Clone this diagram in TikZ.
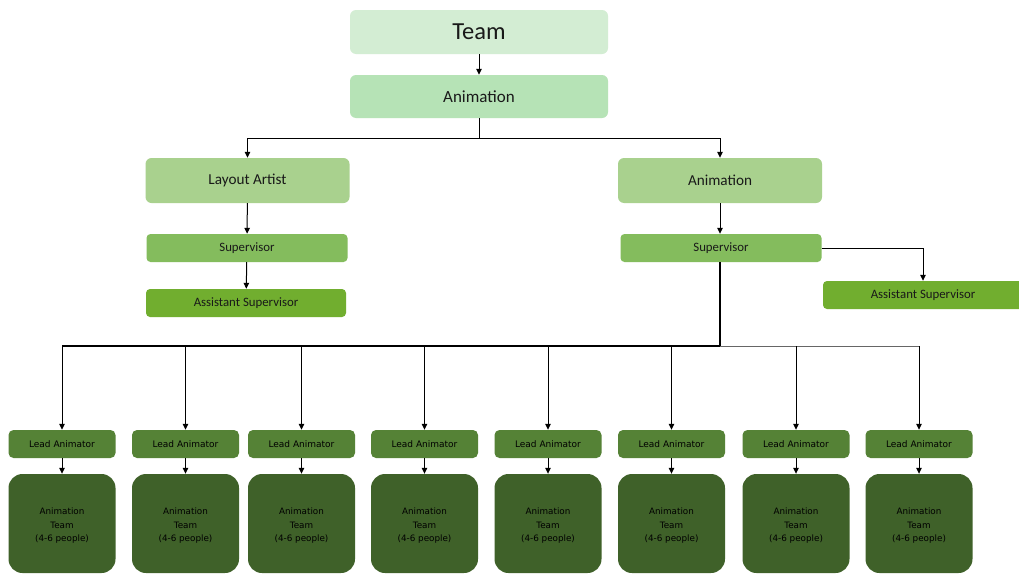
\documentclass[tikz,border=0pt]{standalone}
\usepackage{fontspec}
\setmainfont{Carlito}
\newfontfamily\smallsans{DejaVu Sans}
\usetikzlibrary{arrows.meta}

\definecolor{cTeam}{HTML}{D3EDD3}
\definecolor{cAnim}{HTML}{B6E3B6}
\definecolor{cDept}{HTML}{A9D18E}
\definecolor{cSup}{HTML}{84BC5D}
\definecolor{cAsst}{HTML}{71AE2F}
\definecolor{cLead}{HTML}{558236}
\definecolor{cCrew}{HTML}{3F6129}

\tikzset{
  box/.style={rectangle, rounded corners=6pt, inner sep=0pt, text=black!90},
  teambox/.style={box, fill=cTeam, minimum width=258pt, minimum height=44pt, font=\fontsize{24.5}{28}\selectfont},
  animbox/.style={box, fill=cAnim, minimum width=258pt, minimum height=43pt, font=\fontsize{17}{20}\selectfont},
  deptbox/.style={box, fill=cDept, minimum width=204pt, minimum height=45pt, font=\fontsize{15.2}{18}\selectfont},
  supbox/.style={box, rounded corners=4pt, fill=cSup, minimum width=201pt, minimum height=28pt, font=\fontsize{12.8}{15}\selectfont},
  asstbox/.style={box, rounded corners=4pt, fill=cAsst, minimum width=200pt, minimum height=28pt, font=\fontsize{12.8}{15}\selectfont},
  leadbox/.style={box, rounded corners=5pt, fill=cLead, minimum width=107pt, minimum height=28pt, text=black, font=\smallsans\fontsize{9}{10}\selectfont},
  crewbox/.style={box, rounded corners=14pt, fill=cCrew, minimum width=107pt, minimum height=99pt, align=center, text=black, font=\smallsans\fontsize{8.8}{13.5}\selectfont},
  link/.style={draw=black, line width=1pt},
  arr/.style={link, -{Triangle[width=5.5pt,length=6pt]}},
}

\begin{document}
\begin{tikzpicture}[x=1pt,y=-1pt]
\clip (0,0) rectangle (1019,573);
\fill[white] (0,0) rectangle (1019,573);

% top of the hierarchy
\node[teambox] (team) at (479,32) {Team};
\node[animbox] (anim) at (479,96.5) {Animation};

% departments
\node[deptbox] (layout) at (247.5,180.5) {Layout Artist};
\node[deptbox] (animdept) at (720,180.5) {Animation};

% supervisors
\node[supbox] (supL) at (247,248) {Supervisor};
\node[asstbox] (asstL) at (246,303) {Assistant Supervisor};
\node[supbox] (supR) at (721,248) {Supervisor};
\node[asstbox] (asstR) at (923,295) {Assistant Supervisor};

% lead animators and their teams
\foreach \i/\x in {1/62,2/185.5,3/301.5,4/424.5,5/548,6/671.5,7/796,8/919}{
  \node[leadbox] (lead\i) at (\x,444) {Lead Animator};
  \node[crewbox] (crew\i) at (\x,523.5) {};
  \node[align=center, text=black, font=\smallsans\fontsize{8.8}{13.5}\selectfont] (crewtext\i) at (\x,526) {Animation\\Team\\(4-6 people)};
}

% connectors
\coordinate (split) at (479,138);
\coordinate (bus) at (720,346);
\coordinate (busL) at (62,346);
\coordinate (busR) at (919,346);

\draw[arr] (team) -- (anim);
\draw[link] (anim.south) -- (split);
\draw[arr] (split) -| (layout.north);
\draw[arr] (split) -| (animdept.north);

\draw[arr] (layout) -- (supL);
\draw[arr] (supL) -- (asstL);
\draw[arr] (animdept.south) -- (animdept.south |- supR.north);
\draw[arr] (supR.east) -| (asstR.north);

\draw[line width=1.6pt] (supR.south -| bus) -- (bus) -- (busL);
\draw[draw=black!60, line width=1pt] (bus) -- (busR);

\foreach \i in {1,...,8}{
  \draw[arr] (bus -| lead\i) -- (lead\i.north);
  \draw[arr] (lead\i) -- (crew\i);
}
\end{tikzpicture}
\end{document}
